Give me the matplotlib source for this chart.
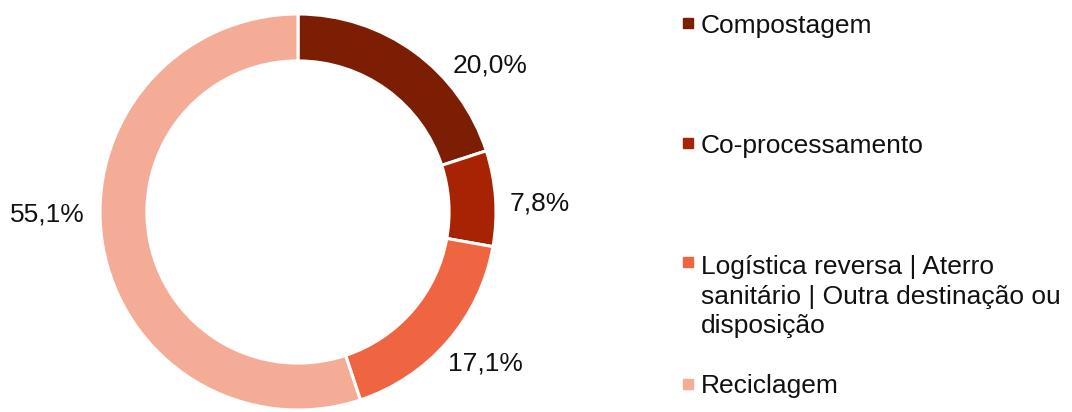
import matplotlib.pyplot as plt

plt.rcParams['font.family'] = ['Liberation Sans', 'DejaVu Sans']

# destinação dos resíduos (%)
categorias = ['Compostagem', 'Co-processamento',
              'Logística reversa | Aterro\nsanitário | Outra destinação ou\ndisposição',
              'Reciclagem']
valores = [20.0, 7.8, 17.1, 55.1]
cores = ['#7B1E04', '#A82304', '#EF6542', '#F4AC97']

# layout in pixels of the original picture
W, H = 1072, 412
cx, cy, R = 298, 212, 198

def px(x, y):
    return (x - cx) / R, (cy - y) / R

# label spots (pixel centre x, baseline y)
pos_rotulos = [(490, 72), (540, 211), (485, 370), (47, 222)]
# legend baselines (first line)
base_legenda = [33, 153, 272, 393]
passo_linha = 30.5

fig = plt.figure(figsize=(W / 100, H / 100), dpi=100)
ax = fig.add_axes([0, 0, 1, 1])
ax.pie(valores, colors=cores, startangle=90, counterclock=False, radius=1,
       wedgeprops=dict(width=0.237, edgecolor='white', linewidth=2.2))
ax.set_xlim(-cx / R, (W - cx) / R)
ax.set_ylim(-(H - cy) / R, cy / R)
ax.set_aspect('equal')
ax.axis('off')

fs = 19
for v, (x, y) in zip(valores, pos_rotulos):
    tx, ty = px(x, y)
    ax.text(tx, ty, f'{v:.1f}%'.replace('.', ','), ha='center', va='baseline',
            fontsize=fs, color='#111111')

for nome, cor, b in zip(categorias, cores, base_legenda):
    mx, my = px(688, b - 9.5)
    ax.plot([mx], [my], marker='s', markersize=6.5, color=cor, linestyle='none')
    # matplotlib puts the last line on the baseline, so shift multi-line text
    extra = nome.count('\n') * passo_linha
    tx, ty = px(701, b + extra)
    ax.text(tx, ty, nome, ha='left', va='baseline', fontsize=fs,
            color='#111111', linespacing=1.28)

fig.savefig('out.png', dpi=100)
